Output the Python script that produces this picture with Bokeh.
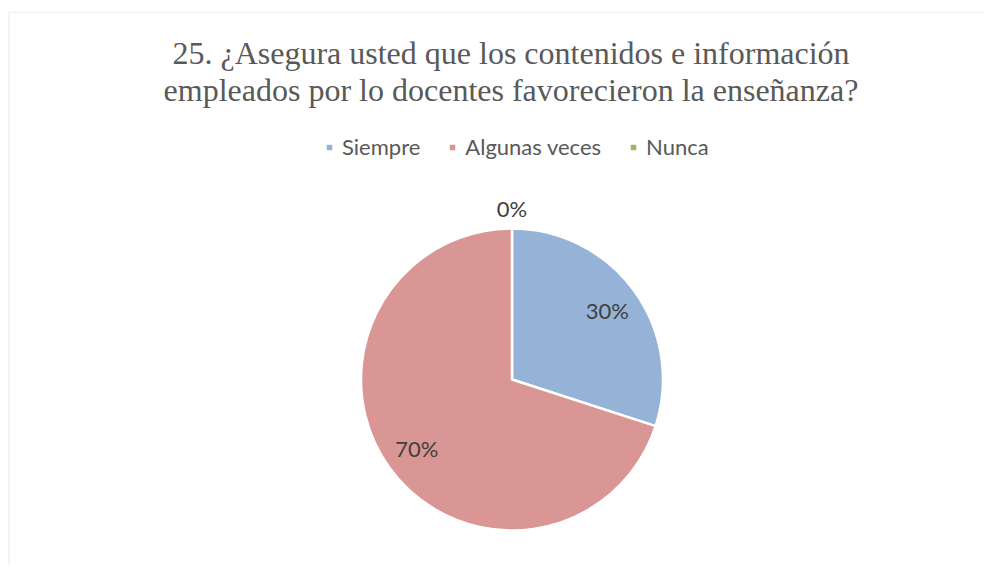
import math
from bokeh.plotting import figure
from bokeh.models import (ColumnDataSource, Range1d, Label, Legend, LegendItem,
                          BoxAnnotation)
from bokeh.embed import file_html
from bokeh.resources import INLINE
from bokeh.core.properties import value

# ---- data ----
categories = ["Siempre", "Algunas veces", "Nunca"]
percentages = [30, 70, 0]
colors = ["#95B3D7", "#D99694", "#9BBB59"]
title_lines = ["25. ¿Asegura usted que los contenidos e información",
               "empleados por lo docentes favorecieron la enseñanza?"]

W, H = 984, 565
CX, CY, R = 511.5, H - 379, 151

total = sum(percentages)
starts, ends, radii, lx, ly, labels = [], [], [], [], [], []
a = math.pi / 2
for v in percentages:
    span = v / total * 2 * math.pi
    starts.append(a)
    ends.append(a - span)
    radii.append(R if v > 0 else 0)
    mid = a - span / 2
    rr = R * 0.78 if v > 0 else R + 20
    lx.append(CX + rr * math.cos(mid))
    ly.append(CY + rr * math.sin(mid))
    labels.append(f"{v}%")
    a -= span

src = ColumnDataSource(dict(cat=categories, start=starts, end=ends, r=radii,
                            color=colors, lx=lx, ly=ly, lab=labels))

p = figure(width=W, height=H, output_backend="svg", toolbar_location=None,
           x_range=Range1d(0, W), y_range=Range1d(0, H), min_border=0,
           outline_line_color=None, background_fill_color="white")
p.axis.visible = False
p.grid.visible = False

border = BoxAnnotation(left=8.5, right=3000, top=H - 12, bottom=-3000,
                       left_units="screen", right_units="screen",
                       top_units="screen", bottom_units="screen",
                       fill_alpha=0, line_color="#d9d9d9", line_width=2)
p.add_layout(border)

wr = p.wedge(x=CX, y=CY, radius="r", start_angle="start", end_angle="end",
             direction="clock", fill_color="color", line_color="white",
             line_width=2.5, source=src)

p.text(x="lx", y="ly", text="lab", source=src, text_align="center",
       text_baseline="middle", text_font=value("Lato"),
       text_font_size="22px", text_color="#404040")

for i, t in enumerate(title_lines):
    p.add_layout(Label(x=510.5, y=H - 52 - i * 37, x_units="screen",
                       y_units="screen", text=t, text_align="center",
                       text_baseline="alphabetic",
                       text_font="Liberation Serif", text_font_size="32px",
                       text_color="#595959"))

items = [LegendItem(label=c, renderers=[wr], index=i)
         for i, c in enumerate(categories)]
legend = Legend(items=items, orientation="horizontal", location=(324, 405),
                glyph_width=10, glyph_height=10, label_standoff=8, spacing=27,
                padding=0, margin=0, border_line_color=None,
                background_fill_alpha=0, label_text_font="Lato",
                label_text_font_size="22px", label_text_color="#595959")
p.add_layout(legend, "center")

open("out.html", "w").write(file_html(p, INLINE))
